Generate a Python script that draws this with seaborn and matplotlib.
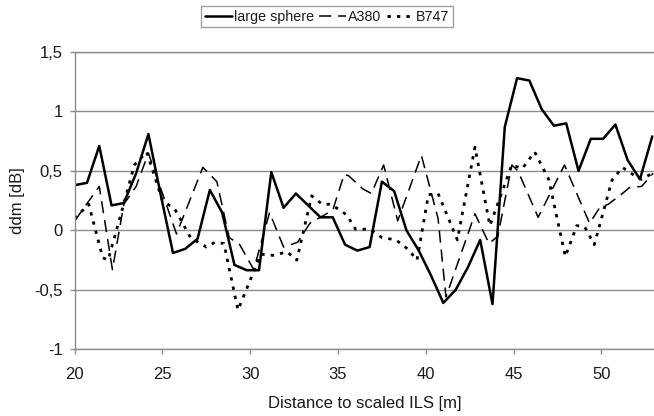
import matplotlib
matplotlib.use("Agg")
import matplotlib.pyplot as plt
import seaborn as sns

# -----------------------------------------------------------------------------
# Data
# -----------------------------------------------------------------------------
sphere_x = [20.0, 20.7, 21.4, 22.1, 22.8, 23.5, 24.2, 24.9, 25.6, 26.3,
            27.0, 27.7, 28.4, 29.1, 29.8, 30.5, 31.2, 31.9, 32.6, 33.3,
            34.0, 34.7, 35.4, 36.1, 36.8, 37.5, 38.2, 38.9, 39.6, 40.3,
            41.0, 41.7, 42.4, 43.1, 43.8, 44.5, 45.2, 45.9, 46.6, 47.3,
            48.0, 48.7, 49.4, 50.1, 50.8, 51.5, 52.2, 52.9]
sphere_y = [0.38, 0.40, 0.71, 0.21, 0.23, 0.48, 0.81, 0.30, -0.19, -0.155,
            -0.07, 0.34, 0.15, -0.29, -0.335, -0.335, 0.49, 0.19, 0.31, 0.21,
            0.11, 0.11, -0.12, -0.17, -0.14, 0.41, 0.33, 0.0, -0.17, -0.38,
            -0.61, -0.50, -0.31, -0.08, -0.62, 0.87, 1.28, 1.26, 1.02, 0.88,
            0.90, 0.50, 0.77, 0.77, 0.89, 0.59, 0.43, 0.79]

a380_x = [20.0, 21.4, 22.15, 22.8, 23.5, 24.2, 25.8, 27.3, 28.1, 28.8,
          29.4, 30.2, 31.1, 31.9, 32.7, 33.4, 34.7, 35.35, 35.6, 36.4,
          36.9, 37.6, 38.4, 39.75, 40.7, 41.15, 42.8, 43.6, 44.1, 44.9,
          45.25, 46.4, 47.9, 49.33, 49.9, 50.4, 51.2, 51.6, 52.3, 52.95]
a380_y = [0.08, 0.37, -0.33, 0.22, 0.37, 0.65, -0.03, 0.53, 0.41, -0.06,
          -0.12, -0.33, 0.15, -0.14, -0.10, 0.06, 0.17, 0.47, 0.46, 0.35,
          0.31, 0.55, 0.08, 0.63, 0.10, -0.56, 0.14, -0.11, -0.05, 0.55,
          0.50, 0.11, 0.55, 0.06, 0.19, 0.22, 0.31, 0.36, 0.37, 0.48]

b747_x = [20.0, 20.8, 21.6, 21.9, 22.7, 23.4, 24.1, 25.0, 25.7, 26.6,
          27.5, 28.0, 28.5, 29.3, 30.3, 30.6, 31.3, 32.1, 32.65, 33.5,
          34.1, 34.6, 35.5, 36.0, 36.8, 37.5, 38.3, 39.0, 39.5, 40.15,
          40.7, 41.8, 42.8, 43.65, 44.9, 45.5, 46.2, 47.0, 47.95, 48.6,
          49.05, 49.6, 50.6, 51.2, 51.9, 52.3, 52.9]
b747_y = [0.10, 0.22, -0.23, -0.25, 0.17, 0.55, 0.66, 0.25, 0.18, -0.06,
          -0.14, -0.10, -0.11, -0.67, -0.31, -0.20, -0.21, -0.18, -0.25, 0.29,
          0.22, 0.22, 0.13, 0.01, 0.01, -0.06, -0.08, -0.16, -0.25, 0.30,
          0.31, -0.08, 0.70, 0.04, 0.55, 0.52, 0.66, 0.43, -0.22, 0.04,
          0.03, -0.12, 0.42, 0.53, 0.46, 0.43, 0.48]

y_ticks = [-1, -0.5, 0, 0.5, 1, 1.5]
y_tick_labels = ["-1", "-0,5", "0", "0,5", "1", "1,5"]
x_ticks = [20, 25, 30, 35, 40, 45, 50]

# -----------------------------------------------------------------------------
# Style
# -----------------------------------------------------------------------------
sns.set_style("white")
plt.rcParams["font.family"] = ["Liberation Sans", "DejaVu Sans"]
GRID_COLOR = "#8c8c8c"
TEXT_COLOR = "#1a1a1a"

fig = plt.figure(figsize=(6.54, 4.16), dpi=100)
ax = fig.add_axes([0.1142, 0.1603, 0.8858, 0.7147])

sns.lineplot(x=sphere_x, y=sphere_y, ax=ax, color="black", lw=1.8,
             sort=False, estimator=None, label="large sphere")
sns.lineplot(x=a380_x, y=a380_y, ax=ax, color="black", lw=1.1,
             linestyle=(0, (8, 4.5)), sort=False, estimator=None, label="A380")
sns.lineplot(x=b747_x, y=b747_y, ax=ax, color="black", lw=2.0,
             linestyle=(0, (1.2, 2.2)), sort=False, estimator=None, label="B747")

ax.set_xlim(20, 53.0)
ax.set_ylim(-1, 1.5)
ax.set_xticks(x_ticks)
ax.set_yticks(y_ticks)
ax.set_yticklabels(y_tick_labels)

ax.yaxis.grid(True, color=GRID_COLOR, lw=1.0)
ax.xaxis.grid(False)
ax.set_axisbelow(True)

for side in ["left", "bottom", "top"]:
    ax.spines[side].set_color(GRID_COLOR)
    ax.spines[side].set_linewidth(1.0)
ax.spines["right"].set_visible(False)

ax.tick_params(axis="both", direction="out", length=3.6, width=1.0,
               color=GRID_COLOR, labelsize=12, labelcolor=TEXT_COLOR)
ax.tick_params(axis="x", pad=9, bottom=True)
ax.tick_params(axis="y", pad=5, left=True)

ax.set_xlabel("Distance to scaled ILS [m]", fontsize=12, color=TEXT_COLOR, labelpad=10)
ax.set_ylabel("ddm [dB]", fontsize=12, color=TEXT_COLOR, labelpad=7)

handles, labels = ax.get_legend_handles_labels()
ax.get_legend().remove()
leg = fig.legend(handles, labels, loc="upper center",
                 bbox_to_anchor=(0.5, 1 - 6 / 416), ncol=3, frameon=True,
                 fancybox=False, fontsize=10.3, handlelength=1.9,
                 handletextpad=0.15, columnspacing=0.35, borderpad=0.25,
                 borderaxespad=0)
leg.get_frame().set_edgecolor("#888888")
leg.get_frame().set_linewidth(1.0)
for t in leg.get_texts():
    t.set_color(TEXT_COLOR)

fig.savefig("out.png", dpi=100)
plt.close(fig)
